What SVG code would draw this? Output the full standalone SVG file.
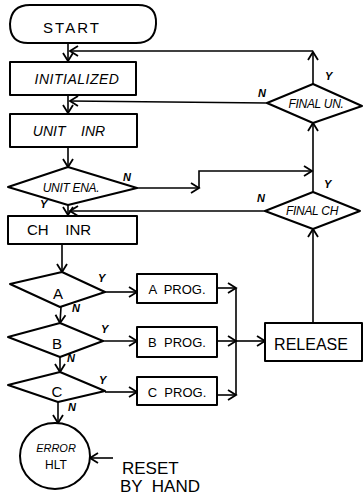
<svg xmlns="http://www.w3.org/2000/svg" width="364" height="497" viewBox="0 0 364 497">
<defs>
<marker id="ah" markerUnits="userSpaceOnUse" markerWidth="12" markerHeight="12" refX="9" refY="5" orient="auto" overflow="visible">
<path d="M1,0 L9,5 L1,10" fill="none" stroke="#000" stroke-width="1.8"/>
</marker>
</defs>
<style>
.s{fill:#fff;stroke:#000;stroke-width:2;stroke-linejoin:round}
.c{fill:none;stroke:#000;stroke-width:1.6;marker-end:url(#ah)}
.l{fill:none;stroke:#000;stroke-width:1.6}
text{font-family:"Liberation Sans","DejaVu Sans",sans-serif;fill:#000}
.t{font-size:14px;font-style:italic}
.d{font-size:12px;font-style:italic;letter-spacing:-0.3px}
.lb{font-size:11px;font-style:italic;font-weight:bold}
</style>
<rect width="364" height="497" fill="#fff"/>
<g id="connectors">
<path class="c" d="M68,43 L68,61"/>
<path class="c" d="M313,84 L313,52"/>
<path class="c" d="M313,51 L70,51"/>
<path class="c" d="M267,103 L70,101"/>
<path class="c" d="M68,95 L68,113"/>
<path class="c" d="M68,147 L68,167"/>
<path class="c" d="M137,188 L199,188"/>
<path class="c" d="M199,188 L199,171 L312,171"/>
<path class="c" d="M313,192 L313,123"/>
<path class="c" d="M265,211 L70,211"/>
<path class="c" d="M68,205 L68,215"/>
<path class="c" d="M62,244 L62,272"/>
<path class="c" d="M61,307 L60,323"/>
<path class="c" d="M60,357 L60,372"/>
<path class="c" d="M58,402 L58,423"/>
<path class="c" d="M105,292 L137,292"/>
<path class="c" d="M103,341 L137,341"/>
<path class="c" d="M105,392 L137,392"/>
<path class="c" d="M217,288 L236,288"/>
<path class="c" d="M217,341 L236,341"/>
<path class="c" d="M217,395 L236,395"/>
<path class="l" d="M236,288 L236,395"/>
<path class="c" d="M236,341 L265,341"/>
<path class="c" d="M313,323 L313,229"/>
<path class="c" d="M113,458 L90,458"/>
</g>
<g id="start">
<path class="s" d="M30,5 L138,5 Q157,5 156,24 Q155,43 136,43 L28,43 Q10,43 10,24 Q11,5 30,5 Z"/>
<text x="72" y="33" font-size="15" text-anchor="middle" letter-spacing="2">START</text>
</g>
<g id="initialized">
<rect class="s" x="10" y="62" width="126" height="33"/>
<text class="t" x="77" y="84" text-anchor="middle" letter-spacing="0.5">INITIALIZED</text>
</g>
<g id="unit-inr">
<rect class="s" x="10" y="114" width="127" height="33"/>
<text class="t" x="69" y="136" text-anchor="middle" xml:space="preserve">UNIT    INR</text>
</g>
<g id="unit-ena">
<polygon class="s" points="8,187 68,167 137,188 68,205"/>
<text class="d" x="71" y="192" text-anchor="middle">UNIT ENA.</text>
<text class="lb" x="123" y="181">N</text>
<text class="lb" x="40" y="208">Y</text>
</g>
<g id="ch-inr">
<rect class="s" x="8" y="216" width="129" height="28"/>
<text x="59" y="235" font-size="15" text-anchor="middle" xml:space="preserve">CH    INR</text>
</g>
<g id="dec-a">
<polygon class="s" points="10,284 62,272 105,292 60,307"/>
<text x="58" y="299" font-size="15" text-anchor="middle">A</text>
<text class="lb" x="98" y="282">Y</text>
<text class="lb" x="72" y="312">N</text>
</g>
<g id="dec-b">
<polygon class="s" points="8,337 60,323 103,341 60,357"/>
<text x="57" y="349" font-size="15" text-anchor="middle">B</text>
<text class="lb" x="101" y="333">Y</text>
<text class="lb" x="67" y="362">N</text>
</g>
<g id="dec-c">
<polygon class="s" points="8,385 60,372 105,391 58,402"/>
<text x="57" y="397" font-size="15" text-anchor="middle">C</text>
<text class="lb" x="99" y="384">Y</text>
<text class="lb" x="68" y="411">N</text>
</g>
<g id="a-prog">
<rect class="s" x="137" y="274" width="80" height="29"/>
<text x="177" y="294" font-size="13" text-anchor="middle" xml:space="preserve">A  PROG.</text>
</g>
<g id="b-prog">
<rect class="s" x="137" y="327" width="80" height="30"/>
<text x="177" y="347" font-size="13" text-anchor="middle" xml:space="preserve">B  PROG.</text>
</g>
<g id="c-prog">
<rect class="s" x="137" y="377" width="80" height="28"/>
<text x="177" y="397" font-size="13" text-anchor="middle" xml:space="preserve">C  PROG.</text>
</g>
<g id="release">
<rect class="s" x="265" y="323" width="97" height="38"/>
<text x="311" y="350" font-size="16" text-anchor="middle">RELEASE</text>
</g>
<g id="final-ch">
<polygon class="s" points="265,211 313,192 360,211 313,229"/>
<text class="d" x="312" y="215" text-anchor="middle">FINAL CH</text>
<text class="lb" x="324" y="188">Y</text>
<text class="lb" x="257" y="202">N</text>
</g>
<g id="final-un">
<polygon class="s" points="267,103 313,84 362,106 313,123"/>
<text class="d" x="316" y="108" text-anchor="middle">FINAL UN.</text>
<text class="lb" x="325" y="80">Y</text>
<text class="lb" x="258" y="97">N</text>
</g>
<g id="error-hlt">
<ellipse class="s" cx="55" cy="456" rx="35" ry="33"/>
<text x="56" y="452" font-size="11" font-style="italic" text-anchor="middle">ERROR</text>
<text x="56" y="469" font-size="12" text-anchor="middle">HLT</text>
</g>
<g id="reset-label">
<text x="122" y="474" font-size="17">RESET</text>
<text x="120" y="492" font-size="17" xml:space="preserve">BY  HAND</text>
</g>
</svg>
